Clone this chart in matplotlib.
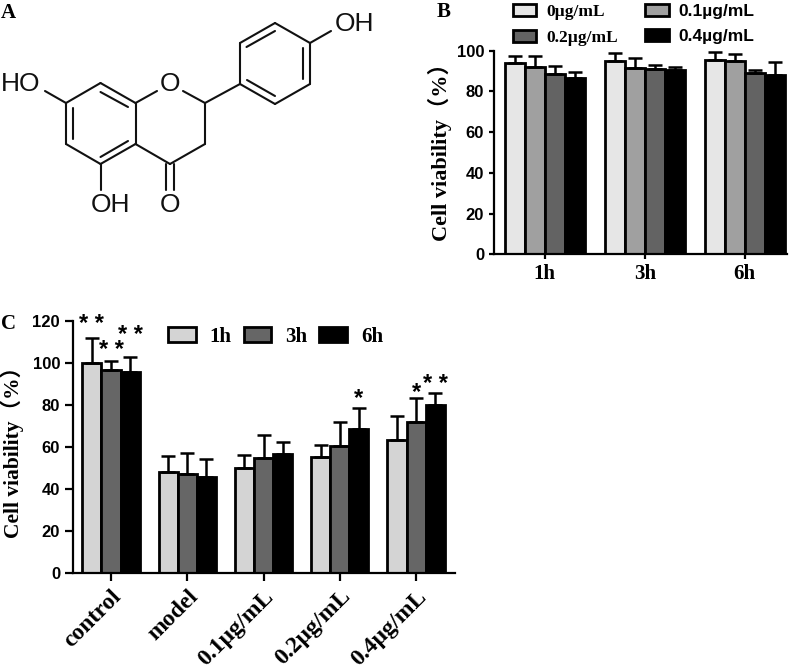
import matplotlib
matplotlib.use('Agg')
import matplotlib.pyplot as plt
import numpy as np

W, H = 796, 668
SERIF = ['Liberation Serif', 'Noto Sans CJK SC']
SANS = 'Liberation Sans'

# panel B
times = ['1h', '3h', '6h']
doses_b = ['0µg/mL', '0.1µg/mL', '0.2µg/mL', '0.4µg/mL']
vals_b = [[94, 95, 95.5], [92, 91.5, 95], [88.5, 91, 89], [86.5, 90.5, 88]]
errs_b = [[3.5, 4, 4], [5.5, 5, 3.5], [4, 2, 1.5], [3, 1.5, 6.5]]
colors_b = ['#e6e6e6', '#a0a0a0', '#636363', '#000000']

# panel C
groups = ['control', 'model', '0.1µg/mL', '0.2µg/mL', '0.4µg/mL']
vals_c = [[100, 48, 50, 55, 63.5], [96.5, 47, 54.5, 60.5, 72], [95.5, 45.5, 56.5, 68.5, 80]]
errs_c = [[12, 7.5, 6, 6, 11], [4.5, 10, 11, 11.5, 11.5], [7.5, 8.5, 6, 10, 5.5]]
colors_c = ['#d4d4d4', '#666666', '#000000']
# series, group, text, height above the error bar
stars = [(0, 0, '* *', 6.2), (1, 0, '* *', 5), (2, 0, '* *', 10), (2, 3, '*', 4.7), (1, 4, '*', 2.4), (2, 4, '* *', 4)]

# molecule, pixel positions of the atoms
atoms = dict(c7=(66, 103), c8=(100.5, 83), c8a=(135.5, 103), c4a=(135.5, 144), c5=(100.5, 164), c6=(66, 144),
             c2=(205, 103), c3=(205, 144), c4=(170, 164),
             b1=(240, 84), b2=(240, 43), b3=(275, 23), b4=(310, 43), b5=(310, 84), b6=(275, 104))
bonds = [('c7', 'c8'), ('c8', 'c8a'), ('c8a', 'c4a'), ('c4a', 'c5'), ('c5', 'c6'), ('c6', 'c7'),
         ('c2', 'c3'), ('c3', 'c4'), ('c4', 'c4a'), ('c2', 'b1'),
         ('b1', 'b2'), ('b2', 'b3'), ('b3', 'b4'), ('b4', 'b5'), ('b5', 'b6'), ('b6', 'b1')]
extra_lines = [((72.5, 108), (72.5, 139)), ((100.5, 92), (128, 107)), ((128, 141), (100.5, 157)),
               ((246.5, 47), (275, 31)), ((303, 48), (303, 79)), ((275, 96), (247, 80)),
               ((135.5, 103), (157, 91)), ((183, 91), (205, 103)),
               ((310, 43), (331, 31)), ((66, 103), (45, 91)), ((100.5, 164), (100.5, 190)),
               ((166, 164), (166, 190)), ((174, 164), (174, 190))]
atom_labels = [('OH', 354, 24), ('HO', 21, 84), ('O', 170, 84), ('OH', 110, 205), ('O', 170, 205)]


def add_axes_px(left, right, top, bottom):
    return fig.add_axes([left / W, 1 - bottom / H, (right - left) / W, (bottom - top) / H])


def style_axes(ax, ticklen):
    ax.spines[['top', 'right']].set_visible(False)
    ax.spines[['left', 'bottom']].set_linewidth(1.6)
    ax.tick_params(width=1.6, length=ticklen)
    for t in ax.get_yticklabels():
        t.set_fontfamily(SANS)
        t.set_fontweight('bold')
        t.set_fontsize(12)


fig = plt.figure(figsize=(W / 100, H / 100), dpi=100)

canvas = fig.add_axes([0, 0, 1, 1])
canvas.set_xlim(0, W)
canvas.set_ylim(H, 0)
canvas.axis('off')
for a, b in bonds:
    canvas.plot([atoms[a][0], atoms[b][0]], [atoms[a][1], atoms[b][1]], color='#111111', lw=1.5, solid_capstyle='round')
for p, q in extra_lines:
    canvas.plot([p[0], q[0]], [p[1], q[1]], color='#111111', lw=1.5, solid_capstyle='round')
for s, x, y in atom_labels:
    canvas.text(x, y, s, family=SANS, fontsize=19, ha='center', va='center', color='#111111')

canvas.text(1, 13, 'A', family=SERIF, weight='bold', fontsize=15, va='center')
canvas.text(437, 12, 'B', family=SERIF, weight='bold', fontsize=15, va='center')
canvas.text(1, 324, 'C', family=SERIF, weight='bold', fontsize=15, va='center')
canvas.text(440, 147, 'Cell viability（%）', family=SERIF, weight='bold', fontsize=16,
            rotation=90, ha='center', va='center')
canvas.text(12, 447, 'Cell viability（%）', family=SERIF, weight='bold', fontsize=15.5,
            rotation=90, ha='center', va='center')

# panel B
ax_b = add_axes_px(494, 787, 50.7, 254.3)
x = np.arange(len(times))
bars_b = []
for i in range(len(doses_b)):
    pos = x + (i - 1.5) * 0.2
    low = np.zeros(len(times))
    b = ax_b.bar(pos, vals_b[i], 0.2, color=colors_b[i], edgecolor='black', linewidth=2,
                 yerr=[low, errs_b[i]], capsize=4.7, error_kw=dict(ecolor='black', elinewidth=1.8, capthick=1.8),
                 label=doses_b[i])
    bars_b.append(b)
ax_b.set_xlim(-0.507, 2.423)
ax_b.set_ylim(0, 100)
ax_b.set_xticks(x, times, family=SERIF, weight='bold', fontsize=15)
ax_b.set_yticks(range(0, 101, 20))
style_axes(ax_b, 3.6)
ax_b.patch.set_alpha(0)

leg_b = fig.legend(handles=[bars_b[0], bars_b[2], bars_b[1], bars_b[3]],
                   labels=[doses_b[0], doses_b[2], doses_b[1], doses_b[3]],
                   ncol=2, loc='upper left', bbox_to_anchor=(513 / W, 1 - 4 / H), frameon=False,
                   fontsize=12.5, handlelength=1.35, handleheight=0.7, handletextpad=0.55,
                   columnspacing=1.6, labelspacing=0.55, borderpad=0, borderaxespad=0)
for t, fam in zip(leg_b.get_texts(), [SERIF, SERIF, SANS, SANS]):
    t.set_fontfamily(fam)
    t.set_fontweight('bold')

# panel C
ax_c = add_axes_px(73.3, 455, 321, 572.7)
x = np.arange(len(groups))
bars_c = []
for i in range(len(times)):
    pos = x + (i - 1) * 0.25
    low = np.zeros(len(groups))
    b = ax_c.bar(pos, vals_c[i], 0.25, color=colors_c[i], edgecolor='black', linewidth=2,
                 yerr=[low, errs_c[i]], capsize=4.7, error_kw=dict(ecolor='black', elinewidth=1.8, capthick=1.8),
                 label=times[i])
    bars_c.append(b)
for i, g, s, up in stars:
    ax_c.text(g + (i - 1) * 0.25, vals_c[i][g] + errs_c[i][g] + up, s, family=SANS, weight='bold',
              fontsize=17, ha='center', va='center')
ax_c.set_xlim(-0.494, 4.51)
ax_c.set_ylim(0, 120)
ax_c.set_xticks(x, groups, family=SERIF, weight='bold', fontsize=17, rotation=45, ha='right', rotation_mode='anchor')
ax_c.set_yticks(range(0, 121, 20))
style_axes(ax_c, 6)
ax_c.patch.set_alpha(0)

leg_c = ax_c.legend(handles=bars_c, labels=times, ncol=3, loc='upper left',
                    bbox_to_anchor=(168 / W, 1 - 327 / H), bbox_transform=fig.transFigure, frameon=False,
                    fontsize=15, handlelength=1.33, handleheight=0.72, handletextpad=0.67,
                    columnspacing=0.57, borderpad=0, borderaxespad=0)
for t in leg_c.get_texts():
    t.set_fontfamily(SERIF)
    t.set_fontweight('bold')

fig.savefig('out.png', dpi=100)
